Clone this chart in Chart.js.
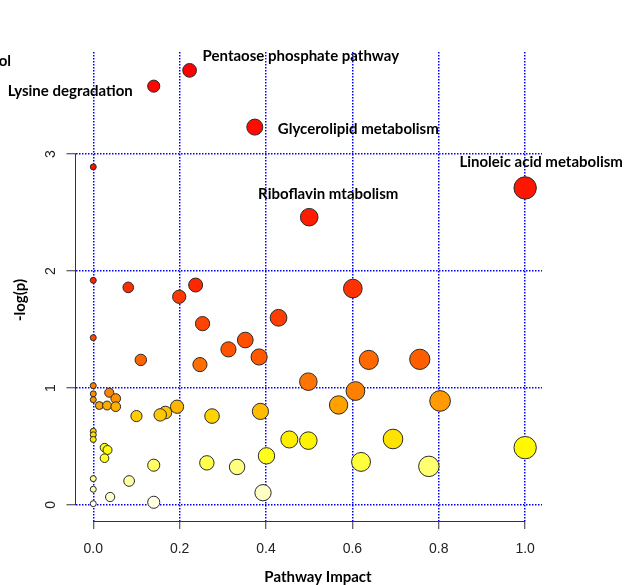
<!DOCTYPE html>
<html><head><meta charset="utf-8">
<script src="https://cdn.jsdelivr.net/npm/chart.js@4"></script>
<style>html,body{margin:0;padding:0;background:#fff;} canvas{display:block;}</style>
</head><body>
<canvas id="c" width="627" height="585"></canvas>
<script>
// ---- data ----
const impact = [0.223, 0.14, 0.374, 1.0, 0.50,
  0, 0, 0.081, 0.199, 0.237, 0.601, 0.429, 0.253, 0, 0.352, 0.313, 0.384, 0.11, 0.247, 0.638, 0.756,
  0.498, 0, 0, 0, 0.037, 0.052, 0.014, 0.032, 0.052, 0.10, 0.155, 0.167, 0.194, 0.275, 0.387, 0.607,
  0.568, 0.803, 0, 0, 0, 0.454, 0.498, 0.694, 1.0, 0.026, 0.033, 0.026, 0.401, 0.14, 0.263, 0.333,
  0.62, 0.777, 0, 0.083, 0, 0.039, 0, 0.14, 0.393];
const negLogP = [3.715, 3.58, 3.23, 2.71, 2.46,
  2.89, 1.92, 1.86, 1.78, 1.88, 1.85, 1.60, 1.55, 1.43, 1.41, 1.33, 1.265, 1.24, 1.20, 1.24, 1.245,
  1.054, 1.02, 0.95, 0.90, 0.96, 0.91, 0.85, 0.85, 0.84, 0.76, 0.77, 0.79, 0.84, 0.76, 0.80, 0.974,
  0.855, 0.889, 0.63, 0.60, 0.56, 0.56, 0.55, 0.564, 0.49, 0.49, 0.47, 0.40, 0.42, 0.34, 0.36, 0.325,
  0.368, 0.33, 0.225, 0.205, 0.134, 0.068, 0.011, 0.023, 0.105];
const labelNames = ["Pentaose phosphate pathway", "Lysine degradation", "Glycerolipid metabolism",
  "Linoleic acid metabolism", "Riboflavin mtabolism"];
const labelPoint = [0, 1, 2, 3, 4];
const cutLabel = "ol";
const xTicks = [0, 0.2, 0.4, 0.6, 0.8, 1.0];
const yTicks = [0, 1, 2, 3];
const xTitle = "Pathway Impact";
const yTitle = "-log(p)";

// ---- styling ----
const labelStyle = [
  {dx: 13, dy: -14, align: 'left'},
  {dx: -21, dy: 5, align: 'right'},
  {dx: 23, dy: 2, align: 'left'},
  {dx: 16, dy: -26, align: 'center'},
  {dx: 19, dy: -23, align: 'center'}
];
const labelFont = "bold 15px Lato";

// heat.colors(n) as in R, assigned by rank of -log(p)
function heatColors(n) {
  const j = Math.floor(n / 4), i = n - j, out = [];
  for (let k = 0; k < i; k++) {
    const g = Math.round(255 * (i > 1 ? k / (i - 1) : 0));
    out.push(`rgb(255,${g},0)`);
  }
  for (let k = 0; k < j; k++) {
    const s0 = 1 - 1 / (2 * j), s1 = 1 / (2 * j);
    const s = j > 1 ? s0 + (s1 - s0) * k / (j - 1) : s0;
    out.push(`rgb(255,255,${Math.round(255 * (1 - s))})`);
  }
  return out;
}
const order = negLogP.map((v, i) => i).sort((a, b) => negLogP[b] - negLogP[a]);
const cols = heatColors(order.length);
const points = order.map(i => ({x: impact[i], y: negLogP[i], r: 3.0 + 8.2 * Math.sqrt(impact[i])}));

const extras = {
  id: 'extras',
  afterDraw(chart) {
    const ctx = chart.ctx, xs = chart.scales.x, ys = chart.scales.y;
    ctx.save();
    // R-style axis lines spanning first..last tick
    ctx.strokeStyle = '#333'; ctx.lineWidth = 1;
    ctx.beginPath();
    const yb = Math.round(chart.chartArea.bottom) + 0.5;
    ctx.moveTo(xs.getPixelForValue(xTicks[0]), yb);
    ctx.lineTo(xs.getPixelForValue(xTicks[xTicks.length - 1]), yb);
    const xl = Math.round(chart.chartArea.left) - 0.5;
    ctx.moveTo(xl, ys.getPixelForValue(yTicks[0]));
    ctx.lineTo(xl, ys.getPixelForValue(yTicks[yTicks.length - 1]));
    ctx.stroke();
    // y tick labels, rotated
    ctx.fillStyle = '#222';
    ctx.font = '14px "Liberation Sans"';
    ctx.textAlign = 'center'; ctx.textBaseline = 'middle';
    yTicks.forEach(v => {
      ctx.save();
      ctx.translate(51, ys.getPixelForValue(v));
      ctx.rotate(-Math.PI / 2);
      ctx.fillText(String(v), 0, 0);
      ctx.restore();
    });
    // titles
    ctx.fillStyle = '#000';
    ctx.font = 'bold 15px Lato';
    ctx.fillText(xTitle, 318, 577);
    ctx.save();
    ctx.translate(20, 300);
    ctx.rotate(-Math.PI / 2);
    ctx.fillText(yTitle, 0, 0);
    ctx.restore();
    // point labels
    ctx.font = labelFont;
    labelNames.forEach((name, k) => {
      const i = labelPoint[k], st = labelStyle[k];
      const px = xs.getPixelForValue(impact[i]), py = ys.getPixelForValue(negLogP[i]);
      ctx.textAlign = st.align;
      ctx.fillText(name, px + st.dx, py + st.dy);
    });
    ctx.textAlign = 'right';
    ctx.fillText(cutLabel, 11, 61);
    ctx.restore();
  }
};

new Chart(document.getElementById('c'), {
  type: 'bubble',
  data: {
    datasets: [{
      data: points,
      backgroundColor: cols,
      borderColor: '#2a2a2a',
      borderWidth: 1,
      clip: false
    }]
  },
  options: {
    responsive: false,
    animation: false,
    events: [],
    layout: {padding: {top: 52, right: 85, left: 0, bottom: 0}},
    plugins: {legend: {display: false}, tooltip: {enabled: false}},
    scales: {
      x: {
        type: 'linear', min: -0.04, max: 1.039,
        afterBuildTicks: s => { s.ticks = xTicks.map(v => ({value: v})); },
        afterFit: s => { s.height = 64; },
        border: {display: false, dash: [1.5, 1.5]},
        grid: {color: '#0000ff', lineWidth: 1.5, drawTicks: true, tickLength: 8,
               tickColor: '#333', tickWidth: 1, tickBorderDash: []},
        ticks: {autoSkip: false, maxRotation: 0, minRotation: 0, padding: 12,
                color: '#222', font: {family: 'Liberation Sans', size: 14},
                callback: v => Number(v).toFixed(1)}
      },
      y: {
        type: 'linear', min: -0.137, max: 3.872,
        afterBuildTicks: s => { s.ticks = yTicks.map(v => ({value: v})); },
        afterFit: s => { s.width = 76; },
        border: {display: false, dash: [1.5, 1.5]},
        grid: {color: '#0000ff', lineWidth: 1.5, drawTicks: true, tickLength: 9.5,
               tickColor: '#333', tickWidth: 1, tickBorderDash: []},
        ticks: {display: false}
      }
    }
  },
  plugins: [extras]
});
</script>
</body></html>
